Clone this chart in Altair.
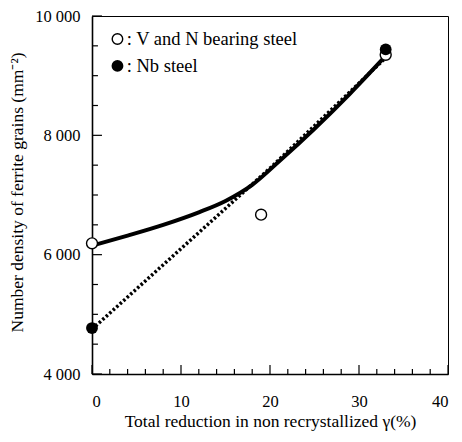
import altair as alt
import pandas as pd

# ---- data ----
solid_x = [0, 4, 8, 12, 15, 18, 21, 25, 29, 33]
solid_y = [6150, 6320, 6500, 6710, 6900, 7170, 7560, 8110, 8700, 9330]

dotted_x = [0, 20, 33]
dotted_y = [4750, 7450, 9300]

open_x = [0, 19, 33]
open_y = [6190, 6670, 9350]

filled_x = [0, 33]
filled_y = [4770, 9440]

legend_labels = [": V and N bearing steel", ": Nb steel"]
legend_filled = [False, True]
legend_x = [2.86, 2.86]
legend_y = [9615, 9164]
legend_text_x = [3.9, 3.9]

x_tick_values = list(range(0, 41, 2))
y_tick_values = list(range(4000, 10001, 500))

FONT = "Times New Roman"

xs = alt.Scale(domain=[0, 40], nice=False, zero=False)
ys = alt.Scale(domain=[4000, 10000], nice=False, zero=False)

solid_df = pd.DataFrame({"x": solid_x, "y": solid_y})
dotted_df = pd.DataFrame({"x": dotted_x, "y": dotted_y})
open_df = pd.DataFrame({"x": open_x, "y": open_y})
filled_df = pd.DataFrame({"x": filled_x, "y": filled_y})
leg_df = pd.DataFrame({"x": legend_x, "y": legend_y, "tx": legend_text_x,
                       "label": legend_labels, "filled": legend_filled})

xt_df = pd.DataFrame({"x": x_tick_values})
xt_df["y"] = 4000
xt_df["y2"] = [4000 + (150 if v % 10 == 0 else 85) for v in x_tick_values]
yt_df = pd.DataFrame({"y": y_tick_values})
yt_df["x"] = 0
yt_df["x2"] = [1.12 if v % 2000 == 0 else 0.67 for v in y_tick_values]

base_x = alt.X("x:Q", scale=xs, title="Total reduction in non recrystallized  γ(%)",
               axis=alt.Axis(values=[0, 10, 20, 30, 40], ticks=False, tickSize=0,
                             grid=False, labelPadding=19, domainWidth=1.6,
                             titlePadding=3))
base_y = alt.Y("y:Q", scale=ys, title="Number density of ferrite grains (mm⁻²)",
               axis=alt.Axis(values=[4000, 6000, 8000, 10000], ticks=False, tickSize=0,
                             grid=False, labelPadding=12, domainWidth=1.6,
                             labelExpr="replace(format(datum.value, ','), ',', ' ')",
                             titleX=-75, titleY=176, titleBaseline="middle"))

solid = alt.Chart(solid_df).mark_line(color="black", strokeWidth=4,
                                      interpolate="monotone").encode(x=base_x, y=base_y)
dotted = alt.Chart(dotted_df).mark_line(color="black", strokeWidth=3.5,
                                        strokeDash=[2.5, 2.2]).encode(x="x:Q", y="y:Q")
opens = alt.Chart(open_df).mark_point(shape="circle", filled=True, fill="white",
                                      stroke="black", strokeWidth=1.4, size=120,
                                      opacity=1).encode(x="x:Q", y="y:Q")
filled = alt.Chart(filled_df).mark_point(shape="circle", filled=True, color="black",
                                         size=140, opacity=1).encode(x="x:Q", y="y:Q")
xticks = alt.Chart(xt_df).mark_rule(color="black", strokeWidth=1.2).encode(
    x="x:Q", y="y:Q", y2="y2:Q")
yticks = alt.Chart(yt_df).mark_rule(color="black", strokeWidth=1.2).encode(
    y="y:Q", x="x:Q", x2="x2:Q")

leg_open = alt.Chart(leg_df).transform_filter("!datum.filled").mark_point(
    shape="circle", filled=True, fill="white", stroke="black", strokeWidth=1.4,
    size=110, opacity=1).encode(x="x:Q", y="y:Q")
leg_fill = alt.Chart(leg_df).transform_filter("datum.filled").mark_point(
    shape="circle", filled=True, color="black", size=140, opacity=1).encode(
    x="x:Q", y="y:Q")
leg_text = alt.Chart(leg_df).mark_text(align="left", baseline="middle", font=FONT,
                                       fontSize=18.5, color="black").encode(
    x="tx:Q", y="y:Q", text="label:N")

chart = alt.layer(xticks, yticks, dotted, solid, opens, filled,
                  leg_open, leg_fill, leg_text).properties(
    width=356, height=358,
    autosize=alt.AutoSizeParams(type="none"),
    padding={"left": 84, "top": 8, "right": 6, "bottom": 59},
).configure_view(stroke="black", strokeWidth=1).configure_axis(
    labelFont=FONT, titleFont=FONT, labelFontSize=16.5, titleFontSize=17.5,
    titleFontWeight="normal", labelColor="black", titleColor="black",
    domainColor="black",
)

chart.save("out.html", embed_options={"renderer": "svg", "actions": False})
